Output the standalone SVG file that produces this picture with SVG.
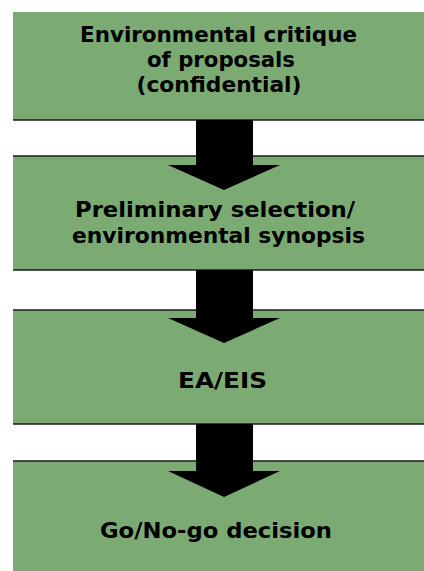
<svg xmlns="http://www.w3.org/2000/svg" width="424" height="571" viewBox="0 0 424 571">
<style>
.t{font-family:"DejaVu Sans",Verdana,sans-serif;font-weight:bold;font-size:20.5px;fill:#000;text-anchor:middle}
.bg{fill:#7bab73}
.edge{stroke:#1a1a1a;stroke-width:1.5}
.arr{fill:#000}
</style>
<rect width="424" height="571" fill="#fff"/>
<g id="n1"><rect class="bg" x="13" y="12" width="413" height="108"/><line class="edge" x1="13" y1="120" x2="424" y2="120"/>
<text class="t" x="218.5" y="42" textLength="277" lengthAdjust="spacingAndGlyphs">Environmental critique</text><text class="t" x="221" y="67" textLength="148" lengthAdjust="spacingAndGlyphs">of proposals</text><text class="t" x="219" y="92" textLength="165" lengthAdjust="spacingAndGlyphs">(confidential)</text></g>
<g id="n2"><rect class="bg" x="13" y="156" width="413" height="114"/><line class="edge" x1="13" y1="156" x2="424" y2="156"/><line class="edge" x1="13" y1="270" x2="424" y2="270"/>
<text class="t" x="215" y="217" textLength="280" lengthAdjust="spacingAndGlyphs">Preliminary selection/</text><text class="t" x="218.5" y="243" textLength="293" lengthAdjust="spacingAndGlyphs">environmental synopsis</text></g>
<g id="n3"><rect class="bg" x="13" y="310" width="413" height="114"/><line class="edge" x1="13" y1="310" x2="424" y2="310"/><line class="edge" x1="13" y1="424" x2="424" y2="424"/>
<text class="t" x="222.5" y="388" textLength="89" lengthAdjust="spacingAndGlyphs">EA/EIS</text></g>
<g id="n4"><rect class="bg" x="13" y="461" width="413" height="112"/><line class="edge" x1="13" y1="461" x2="424" y2="461"/>
<text class="t" x="216" y="538" textLength="232" lengthAdjust="spacingAndGlyphs">Go/No-go decision</text></g>
<g id="connectors">
<path class="arr" d="M196 120H253V165H280L224 190L168 165H196Z"/>
<path class="arr" d="M196 270H253V318H280L224 343L168 318H196Z"/>
<path class="arr" d="M196 424H253V471H280L224 497L168 471H196Z"/>
</g>
</svg>
